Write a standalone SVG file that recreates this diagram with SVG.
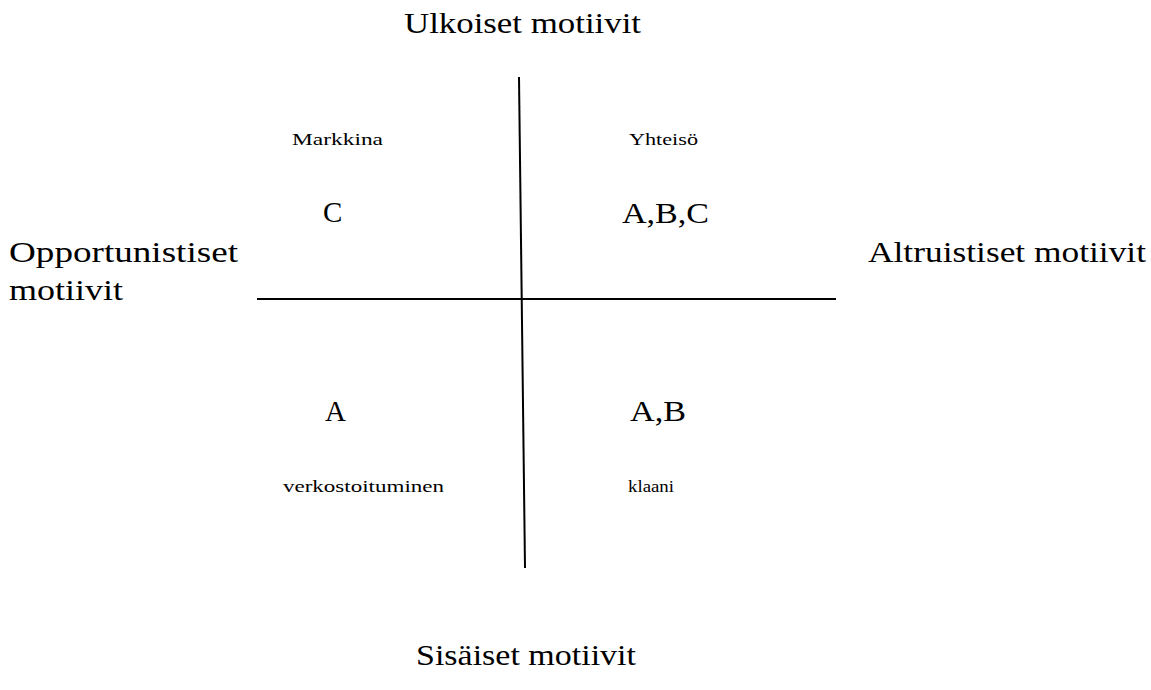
<svg xmlns="http://www.w3.org/2000/svg" width="1151" height="690" viewBox="0 0 1151 690">
  <style>
    .axis { font-family: "Liberation Serif", "DejaVu Serif", serif; font-size: 29px; fill: #000; }
    .tag { font-family: "Liberation Serif", "DejaVu Serif", serif; font-size: 17px; fill: #000; }
    .code { font-family: "Liberation Serif", "DejaVu Serif", serif; font-size: 29px; fill: #000; }
    .line { stroke: #000; stroke-width: 2; fill: none; }
  </style>
  <rect width="1151" height="690" fill="#fff"/>

  <!-- quadrant axes -->
  <g id="connectors">
    <line class="line" x1="519" y1="77" x2="525" y2="568"/>
    <line class="line" x1="257" y1="299" x2="836" y2="299"/>
  </g>

  <!-- axis labels -->
  <g id="axis-top"><text class="axis" x="404" y="33" textLength="237" lengthAdjust="spacingAndGlyphs">Ulkoiset motiivit</text></g>
  <g id="axis-bottom"><text class="axis" x="416" y="665" textLength="220" lengthAdjust="spacingAndGlyphs">Sisäiset motiivit</text></g>
  <g id="axis-left">
    <text class="axis" x="9" y="262" textLength="229" lengthAdjust="spacingAndGlyphs">Opportunistiset</text>
    <text class="axis" x="9" y="300" textLength="114" lengthAdjust="spacingAndGlyphs">motiivit</text>
  </g>
  <g id="axis-right"><text class="axis" x="868" y="262" textLength="278" lengthAdjust="spacingAndGlyphs">Altruistiset motiivit</text></g>

  <!-- quadrants -->
  <g id="q-market">
    <text class="tag" x="292" y="145" textLength="91" lengthAdjust="spacingAndGlyphs">Markkina</text>
    <text class="code" x="323" y="222">C</text>
  </g>
  <g id="q-community">
    <text class="tag" x="629" y="145" textLength="69" lengthAdjust="spacingAndGlyphs">Yhteisö</text>
    <text class="code" x="622" y="223" textLength="87" lengthAdjust="spacingAndGlyphs">A,B,C</text>
  </g>
  <g id="q-networking">
    <text class="code" x="325" y="421">A</text>
    <text class="tag" x="283" y="492" textLength="161" lengthAdjust="spacingAndGlyphs">verkostoituminen</text>
  </g>
  <g id="q-clan">
    <text class="code" x="630" y="421" textLength="56" lengthAdjust="spacingAndGlyphs">A,B</text>
    <text class="tag" x="628" y="492" textLength="46" lengthAdjust="spacingAndGlyphs">klaani</text>
  </g>
</svg>
